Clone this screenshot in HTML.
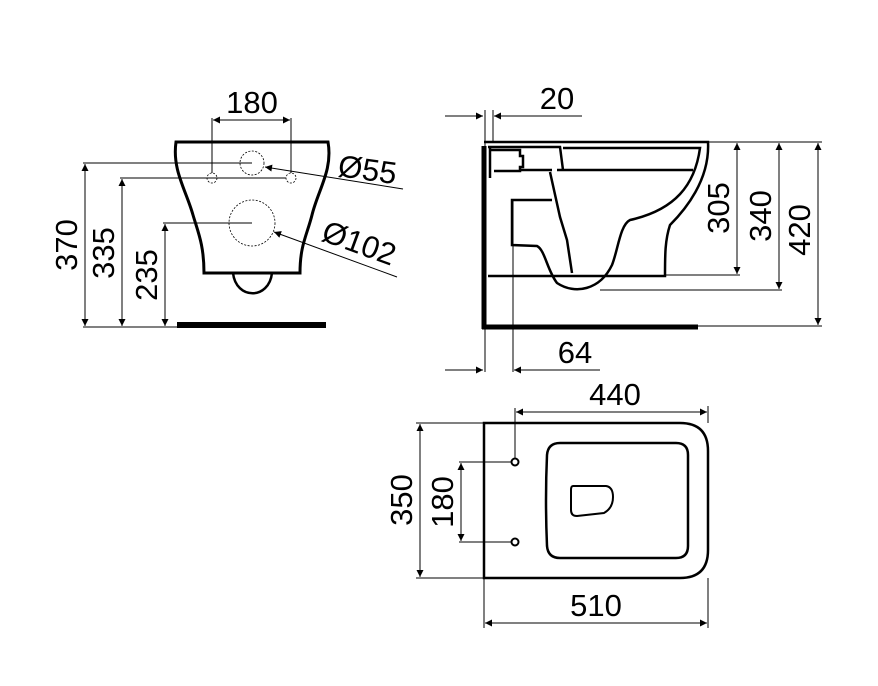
<!DOCTYPE html>
<html><head><meta charset="utf-8"><style>
html,body{margin:0;padding:0;background:#fff;}
svg{display:block;}
text{font-family:"Liberation Sans",sans-serif;font-size:31px;fill:#000;}
</style></head><body>
<svg width="878" height="686" viewBox="0 0 878 686" xmlns="http://www.w3.org/2000/svg">
<defs>
<marker id="a" viewBox="0 0 10 10" refX="10" refY="5" markerWidth="12" markerHeight="7" markerUnits="userSpaceOnUse" orient="auto-start-reverse"><path d="M0,0L10,5L0,10z" fill="#000"/></marker>
</defs>
<g fill="none" stroke="#000">
<!-- FRONT VIEW -->
<path d="M176,142 L328,142 C333,170 318,190 312,215 C307,235 300,245 300,273 L204,273 C204,245 198,232 193,215 C186,190 172,170 176,142 Z" stroke-width="3"/>
<path d="M233,273 C236,300 269,300 272,273" stroke-width="2.5"/>
<rect x="177" y="322" width="149" height="6" fill="#000" stroke="none"/>
<g stroke-width="0.8" stroke-dasharray="2,1.5">
<circle cx="252" cy="163" r="12"/>
<circle cx="212" cy="178" r="5"/>
<circle cx="291" cy="178" r="5"/>
<circle cx="252" cy="223" r="23"/>
</g>
<g stroke-width="1">
<line x1="212" y1="118" x2="212" y2="173"/>
<line x1="291" y1="118" x2="291" y2="173"/>
<line x1="213" y1="120" x2="290" y2="120" marker-start="url(#a)" marker-end="url(#a)"/>
<line x1="265" y1="167" x2="403" y2="189" marker-start="url(#a)"/>
<line x1="274" y1="232" x2="397" y2="277" marker-start="url(#a)"/>
<line x1="83" y1="163" x2="252" y2="163"/>
<line x1="120" y1="178" x2="286" y2="178"/>
<line x1="163" y1="223" x2="252" y2="223"/>
<line x1="83" y1="327" x2="177" y2="327"/>
<line x1="85" y1="164" x2="85" y2="326" marker-start="url(#a)" marker-end="url(#a)"/>
<line x1="122" y1="179" x2="122" y2="326" marker-start="url(#a)" marker-end="url(#a)"/>
<line x1="165" y1="224" x2="165" y2="326" marker-start="url(#a)" marker-end="url(#a)"/>
</g>
<!-- SIDE VIEW -->
<line x1="484" y1="146" x2="484" y2="329" stroke-width="5"/>
<line x1="482" y1="327" x2="698" y2="327" stroke-width="5"/>
<g stroke-width="2.5">
<path d="M484,142 L708,142 C710,180 685,210 670,225 C665,240 665,255 665,276 L488,276"/>
<path d="M488,147 L560,147 L563,170 M563,148 L700,148 C695,185 675,210 630,220 C620,225 618,250 612,265 C600,290 575,295 557,283 C547,270 545,250 537,246 L512,245 L512,200 L552,200"/>
<path d="M557,170 L693,170"/>
<path d="M550,172 L560,217 L567,240 L572,273"/>
<path d="M490,148 L490,178 M490,150 L520,150 L520,156 L523,156 L523,167 L520,167 L520,171 L494,171 M520,170 L552,170"/>
</g>
<g stroke-width="1">
<line x1="493" y1="110" x2="493" y2="142"/>
<line x1="485" y1="110" x2="485" y2="372"/>
<line x1="445" y1="116" x2="483" y2="116" marker-end="url(#a)"/>
<line x1="582" y1="116" x2="494" y2="116" marker-end="url(#a)"/>
<line x1="513" y1="200" x2="513" y2="372"/>
<line x1="445" y1="370" x2="483" y2="370" marker-end="url(#a)"/>
<line x1="600" y1="370" x2="514" y2="370" marker-end="url(#a)"/>
<line x1="708" y1="142" x2="822" y2="142"/>
<line x1="665" y1="275" x2="740" y2="275"/>
<line x1="600" y1="290" x2="782" y2="290"/>
<line x1="698" y1="326" x2="822" y2="326"/>
<line x1="737" y1="143" x2="737" y2="274" marker-start="url(#a)" marker-end="url(#a)"/>
<line x1="779" y1="143" x2="779" y2="289" marker-start="url(#a)" marker-end="url(#a)"/>
<line x1="818" y1="143" x2="818" y2="325" marker-start="url(#a)" marker-end="url(#a)"/>
</g>
<!-- TOP VIEW -->
<path d="M484,423 L680,423 Q708,423 708,451 L708,550 Q708,578 680,578 L484,578 Z" stroke-width="2.5"/>
<path d="M560,443 L676,443 Q688,443 688,455 L688,546 Q688,558 676,558 L560,558 Q548,558 547,546 Q545,500 547,455 Q548,443 560,443 Z" stroke-width="2.5"/>
<path d="M573,486 L606,486 Q613,487 613,497 Q613,508 604,513 L577,516 Q571,516 571,510 L571,490 Q571,486 573,486 Z" stroke-width="2"/>
<circle cx="515" cy="462" r="3.5" stroke-width="2"/>
<circle cx="515" cy="542" r="3.5" stroke-width="2"/>
<g stroke-width="1">
<line x1="515" y1="408" x2="515" y2="458"/>
<line x1="708" y1="406" x2="708" y2="423"/>
<line x1="516" y1="412" x2="707" y2="412" marker-start="url(#a)" marker-end="url(#a)"/>
<line x1="484" y1="578" x2="484" y2="628"/>
<line x1="708" y1="578" x2="708" y2="628"/>
<line x1="485" y1="623" x2="707" y2="623" marker-start="url(#a)" marker-end="url(#a)"/>
<line x1="416" y1="423" x2="484" y2="423"/>
<line x1="416" y1="578" x2="484" y2="578"/>
<line x1="420" y1="424" x2="420" y2="577" marker-start="url(#a)" marker-end="url(#a)"/>
<line x1="459" y1="462" x2="511" y2="462"/>
<line x1="459" y1="542" x2="511" y2="542"/>
<line x1="461" y1="463" x2="461" y2="541" marker-start="url(#a)" marker-end="url(#a)"/>
</g>
</g>
<!-- TEXT -->
<text x="252" y="113" text-anchor="middle">180</text>
<text x="337" y="176" transform="rotate(8 337 176)">Ø55</text>
<text x="320" y="240" transform="rotate(20 320 240)">Ø102</text>
<text transform="translate(77,245) rotate(-90)" text-anchor="middle">370</text>
<text transform="translate(114,253) rotate(-90)" text-anchor="middle">335</text>
<text transform="translate(157,275) rotate(-90)" text-anchor="middle">235</text>
<text x="557" y="109" text-anchor="middle">20</text>
<text x="575" y="363" text-anchor="middle">64</text>
<text transform="translate(729,208) rotate(-90)" text-anchor="middle">305</text>
<text transform="translate(771,216) rotate(-90)" text-anchor="middle">340</text>
<text transform="translate(810,230) rotate(-90)" text-anchor="middle">420</text>
<text x="615" y="405" text-anchor="middle">440</text>
<text x="596" y="616" text-anchor="middle">510</text>
<text transform="translate(412,500) rotate(-90)" text-anchor="middle">350</text>
<text transform="translate(453,502) rotate(-90)" text-anchor="middle">180</text>
</svg>
</body></html>
